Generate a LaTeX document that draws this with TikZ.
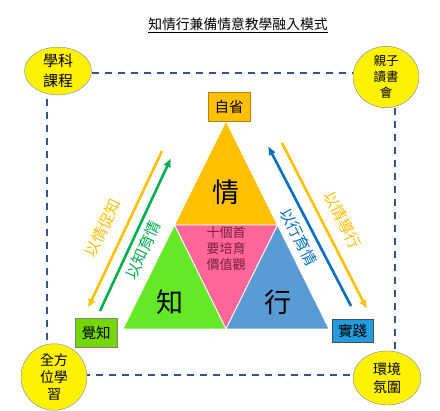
\documentclass[tikz,border=0pt]{standalone}
\usepackage{fontspec}
\newfontfamily\cjk{Noto Sans CJK TC}
\usetikzlibrary{positioning,arrows.meta,shapes.geometric}
\definecolor{qorange}{HTML}{FFC000}
\definecolor{qgreen}{HTML}{66E82A}
\definecolor{qpink}{HTML}{FF6699}
\definecolor{qblue}{HTML}{5B9BD5}
\definecolor{arrgreen}{HTML}{00B050}
\definecolor{arrblue}{HTML}{0070C0}
\definecolor{frameblue}{HTML}{2F5597}
\definecolor{valtext}{HTML}{7A1E3C}
\tikzset{
  sidearrow/.style={-{Latex[length=9pt,width=8pt]}, line width=2.6pt},
  cornerell/.style={draw=frameblue!70, fill=yellow, ellipse, inner sep=0pt, align=center},
  tagbox/.style={draw, minimum width=42pt, inner sep=0pt, align=center, font=\cjk\fontsize{14.5}{16}\selectfont},
  bigchar/.style={font=\cjk\fontsize{27}{30}\selectfont},
  arrlabel/.style={font=\cjk\fontsize{15.5}{17}\selectfont, inner sep=0pt}
}

\begin{document}
\begin{tikzpicture}[x=1pt, y=-1pt]
  \useasboundingbox (0,0) rectangle (440,411);

  % title
  \node[font=\cjk\fontsize{13.8}{16}\selectfont] (title) at (238,25) {\underline{知情行兼備情意教學融入模式}};

  % dashed frame
  \draw[frameblue, line width=1.8pt, dash pattern=on 7pt off 6pt] (47,73) rectangle (395,375);

  % corner ellipses
  \node[cornerell, minimum width=67pt, minimum height=37pt, font=\cjk\fontsize{15}{20}\selectfont] (subj) at (58,71) {學科\\課程};
  \node[cornerell, minimum width=66pt, minimum height=51pt, font=\cjk\fontsize{12.5}{16}\selectfont] (parent) at (386,77) {親子\\讀書\\會};
  \node[cornerell, minimum width=66pt, minimum height=51pt, font=\cjk\fontsize{14}{17}\selectfont] (whole) at (54,377) {全方\\位學\\習};
  \node[cornerell, minimum width=68pt, minimum height=54pt, font=\cjk\fontsize{14}{18}\selectfont] (env) at (387,378) {環境\\氛圍};

  % triangle corners
  \coordinate (apex) at (226,121);
  \coordinate (midL) at (174.5,225);
  \coordinate (midR) at (277.5,225);
  \coordinate (botL) at (123,329);
  \coordinate (botC) at (226,329);
  \coordinate (botR) at (329,329);

  \filldraw[fill=qorange, draw=white, line width=0.8pt] (apex) -- (midL) -- (midR) -- cycle;
  \filldraw[fill=qpink, draw=white, line width=0.8pt] (midL) -- (midR) -- (botC) -- cycle;
  \filldraw[fill=qgreen, draw=white, line width=0.8pt] (midL) -- (botL) -- (botC) -- cycle;
  \filldraw[fill=qblue, draw=white, line width=0.8pt] (midR) -- (botC) -- (botR) -- cycle;

  \node[bigchar] (qing) at (226,192) {情};
  \node[bigchar] (zhi) at (170,302) {知};
  \node[bigchar] (xing) at (278,302) {行};
  \node[font=\cjk\fontsize{13}{16}\selectfont, text=valtext, align=center] (values) at (226,249) {十個首\\要培育\\價值觀};

  % corner boxes
  \node[tagbox, fill=qorange, draw=qorange!70!black, minimum height=29pt] (reflect) at (229,106.5) {自省};
  \node[tagbox, fill=green!55!olive!70!yellow, draw=gray, minimum height=29pt] (aware) at (96,332.5) {覺知};
  \node[tagbox, fill=cyan!80!blue!90, draw=black!70, minimum width=41pt, minimum height=23pt] (practice) at (352.5,330.5) {實踐};

  % side arrows
  \coordinate (lo1) at (162,151);
  \coordinate (lo2) at (88,308);
  \coordinate (lg1) at (100,311);
  \coordinate (lg2) at (171,158);
  \coordinate (rb1) at (351,306);
  \coordinate (rb2) at (268,146);
  \coordinate (ro1) at (282,143);
  \coordinate (ro2) at (367,309);

  \draw[sidearrow, qorange] (lo1) -- (lo2);
  \draw[sidearrow, arrgreen] (lg1) -- (lg2);
  \draw[sidearrow, arrblue] (rb1) -- (rb2);
  \draw[sidearrow, qorange] (ro1) -- (ro2);

  \node[arrlabel, text=qorange, rotate=64.6] (emoknow) at (103,228) {以情促知};
  \node[arrlabel, text=arrgreen, rotate=64.6] (knowemo) at (143,250) {以知育情};
  \node[arrlabel, text=arrblue, rotate=-62.6] (actemo) at (299,237) {以行育情};
  \node[arrlabel, text=qorange, rotate=-63] (emoact) at (343,220) {以情導行};
\end{tikzpicture}
\end{document}
